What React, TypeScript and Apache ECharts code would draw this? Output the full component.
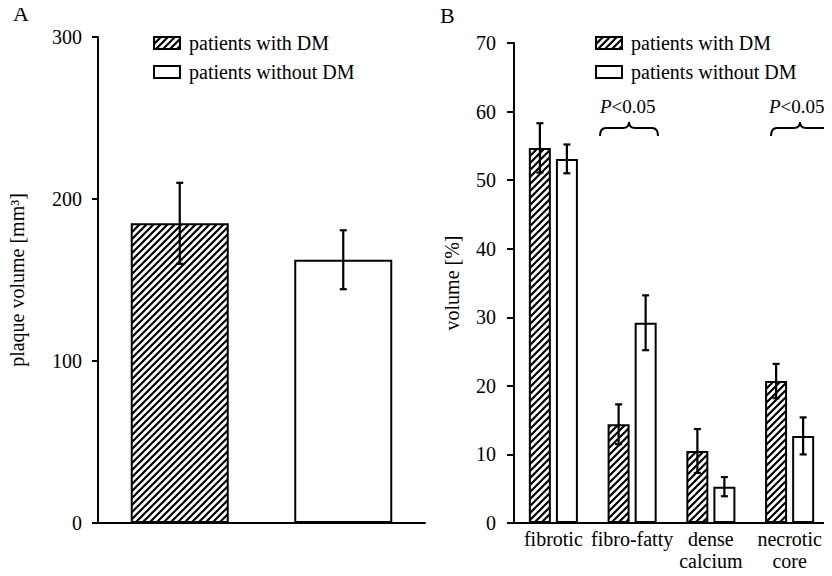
import React, { useEffect, useRef } from 'react';
import * as echarts from 'echarts';

// ---------- data ----------
const seriesNames = ['patients with DM', 'patients without DM'];

// Panel A: total plaque volume [mm3]
const panelACategories = ['with DM', 'without DM'];
const panelAMeans = [185, 162.5];
const panelAErrors = [25, 18.2];
const panelATicks = [0, 100, 200, 300];

// Panel B: plaque composition [%]
const panelBCategories = ['fibrotic', 'fibro-fatty', 'dense\ncalcium', 'necrotic\ncore'];
const panelBDMMeans = [54.7, 14.4, 10.5, 20.7];
const panelBDMErrors = [3.6, 2.9, 3.2, 2.5];
const panelBNonDMMeans = [53.1, 29.2, 5.3, 12.7];
const panelBNonDMErrors = [2.1, 4.0, 1.4, 2.7];
const panelBTicks = [0, 10, 20, 30, 40, 50, 60, 70];
const significanceLabels = ['P<0.05', 'P<0.05'];

// ---------- styling helpers ----------
const FONT = "'Liberation Serif', 'Times New Roman', serif";
const hatchSvg =
  '<svg xmlns="http://www.w3.org/2000/svg" width="7" height="7">' +
  '<rect width="7" height="7" fill="#ffffff"/>' +
  '<path d="M-1,8 L8,-1 M-1,1 L1,-1 M6,8 L8,6" stroke="#000000" stroke-width="2.2"/>' +
  '</svg>';
const hatchPattern: any = {
  image: 'data:image/svg+xml;charset=utf-8,' + encodeURIComponent(hatchSvg),
  repeat: 'repeat',
  imageWidth: 7,
  imageHeight: 7,
};

const braceD = 'M0,14 Q0,6 6,6 L23,6 Q29,6 29,0 Q29,6 35,6 L52,6 Q58,6 58,14';
echarts.graphic.registerShape('brace', echarts.graphic.extendPath(braceD as any, {}) as any);

function errorBars(
  name: string,
  xAxisIndex: number,
  yAxisIndex: number,
  means: number[],
  errs: number[],
  offset: number,
) {
  return {
    type: 'custom',
    name,
    xAxisIndex,
    yAxisIndex,
    z: 10,
    silent: true,
    encode: { x: 0, y: [1, 2] },
    data: means.map((m, i) => [i, m - errs[i], m + errs[i]]),
    renderItem: (_params: any, api: any) => {
      const idx = api.value(0);
      const lo = api.coord([idx, api.value(1)]);
      const hi = api.coord([idx, api.value(2)]);
      const cx = lo[0] + offset;
      const st = { stroke: '#000', lineWidth: 2.2 };
      const cap = 3.5;
      return {
        type: 'group',
        children: [
          { type: 'line', shape: { x1: cx, y1: hi[1], x2: cx, y2: lo[1] }, style: st },
          { type: 'line', shape: { x1: cx - cap, y1: hi[1], x2: cx + cap, y2: hi[1] }, style: st },
          { type: 'line', shape: { x1: cx - cap, y1: lo[1], x2: cx + cap, y2: lo[1] }, style: st },
        ],
      };
    },
  };
}

const axisLineStyle = { show: true, lineStyle: { color: '#000', width: 2 } };

export default function App() {
  const ref = useRef<HTMLDivElement>(null);

  useEffect(() => {
    if (!ref.current) return;
    const chart = echarts.init(ref.current, undefined, { renderer: 'svg' });

    const legendCommon = {
      orient: 'vertical',
      top: 28,
      itemWidth: 26,
      itemHeight: 12,
      itemGap: 9,
      icon: 'rect',
      selectedMode: false,
      itemStyle: { borderColor: '#000', borderWidth: 2 },
      textStyle: { fontFamily: FONT, fontSize: 20, color: '#000', lineHeight: 20, padding: [0, 0, 0, 4] },
      data: seriesNames,
    };

    const option: any = {
      animation: false,
      backgroundColor: '#fff',
      textStyle: { fontFamily: FONT, color: '#000' },
      legend: [
        { ...legendCommon, left: 148 },
        { ...legendCommon, left: 590 },
      ],
      grid: [
        { left: 98, top: 37, width: 327, bottom: 53 },
        { left: 514, top: 43, width: 315, bottom: 53 },
      ],
      xAxis: [
        {
          type: 'category',
          gridIndex: 0,
          data: panelACategories,
          axisLine: axisLineStyle,
          axisTick: { show: false },
          axisLabel: { show: false },
        },
        {
          type: 'category',
          gridIndex: 1,
          data: panelBCategories,
          axisLine: axisLineStyle,
          axisTick: { show: false },
          axisLabel: { fontFamily: FONT, fontSize: 20, color: '#000', lineHeight: 22, margin: 5, interval: 0 },
        },
      ],
      yAxis: [
        {
          type: 'value',
          gridIndex: 0,
          min: panelATicks[0],
          max: panelATicks[panelATicks.length - 1],
          interval: panelATicks[1] - panelATicks[0],
          name: 'plaque volume [mm³]',
          nameLocation: 'middle',
          nameGap: 71,
          nameTextStyle: { fontFamily: FONT, fontSize: 20, color: '#000' },
          axisLine: axisLineStyle,
          axisTick: { show: true, length: 6, lineStyle: { color: '#000', width: 2 } },
          axisLabel: { fontFamily: FONT, fontSize: 20, color: '#000', margin: 16 },
          splitLine: { show: false },
        },
        {
          type: 'value',
          gridIndex: 1,
          min: panelBTicks[0],
          max: panelBTicks[panelBTicks.length - 1],
          interval: panelBTicks[1] - panelBTicks[0],
          name: 'volume [%]',
          nameLocation: 'middle',
          nameGap: 52,
          nameTextStyle: { fontFamily: FONT, fontSize: 20, color: '#000' },
          axisLine: axisLineStyle,
          axisTick: { show: true, length: 7, lineStyle: { color: '#000', width: 2 } },
          axisLabel: { fontFamily: FONT, fontSize: 20, color: '#000', margin: 18 },
          splitLine: { show: false },
        },
      ],
      series: [
        {
          type: 'bar',
          name: seriesNames[0],
          xAxisIndex: 0,
          yAxisIndex: 0,
          barWidth: 98,
          barGap: '-100%',
          data: [panelAMeans[0], '-'],
          itemStyle: { color: hatchPattern, borderColor: '#000', borderWidth: 2 },
        },
        {
          type: 'bar',
          name: seriesNames[1],
          xAxisIndex: 0,
          yAxisIndex: 0,
          barWidth: 98,
          barGap: '-100%',
          data: ['-', panelAMeans[1]],
          itemStyle: { color: '#fff', borderColor: '#000', borderWidth: 2 },
        },
        {
          type: 'bar',
          name: seriesNames[0],
          xAxisIndex: 1,
          yAxisIndex: 1,
          barWidth: 22,
          barGap: '23%',
          data: panelBDMMeans,
          itemStyle: { color: hatchPattern, borderColor: '#000', borderWidth: 2 },
        },
        {
          type: 'bar',
          name: seriesNames[1],
          xAxisIndex: 1,
          yAxisIndex: 1,
          barWidth: 22,
          barGap: '23%',
          data: panelBNonDMMeans,
          itemStyle: { color: '#fff', borderColor: '#000', borderWidth: 2 },
        },
        errorBars('errA', 0, 0, panelAMeans, panelAErrors, 0),
        errorBars('errB-DM', 1, 1, panelBDMMeans, panelBDMErrors, -13.5),
        errorBars('errB-nonDM', 1, 1, panelBNonDMMeans, panelBNonDMErrors, 13.5),
      ],
      graphic: [
        { type: 'text', left: 13, top: 2, style: { text: 'A', font: `22px ${FONT}`, fill: '#000' } },
        { type: 'text', left: 440, top: 4, style: { text: 'B', font: `22px ${FONT}`, fill: '#000' } },
        ...significanceLabels.map((lab, i) => ({
          type: 'text',
          x: i === 0 ? 600 : 769,
          y: 106,
          style: {
            text: '{i|' + lab.charAt(0) + '}' + lab.slice(1),
            fontFamily: FONT,
            fontSize: 19,
            fill: '#000',
            verticalAlign: 'middle',
            rich: { i: { fontStyle: 'italic', fontFamily: FONT, fontSize: 19, fill: '#000' } },
          },
        })),
        { type: 'brace', x: 600, y: 122, style: { stroke: '#000', lineWidth: 2, fill: 'none' } },
        { type: 'brace', x: 771, y: 122, style: { stroke: '#000', lineWidth: 2, fill: 'none' } },
      ],
    };

    chart.setOption(option);
    return () => chart.dispose();
  }, []);

  return <div ref={ref} style={{ width: 832, height: 576, margin: -8 }} />;
}
